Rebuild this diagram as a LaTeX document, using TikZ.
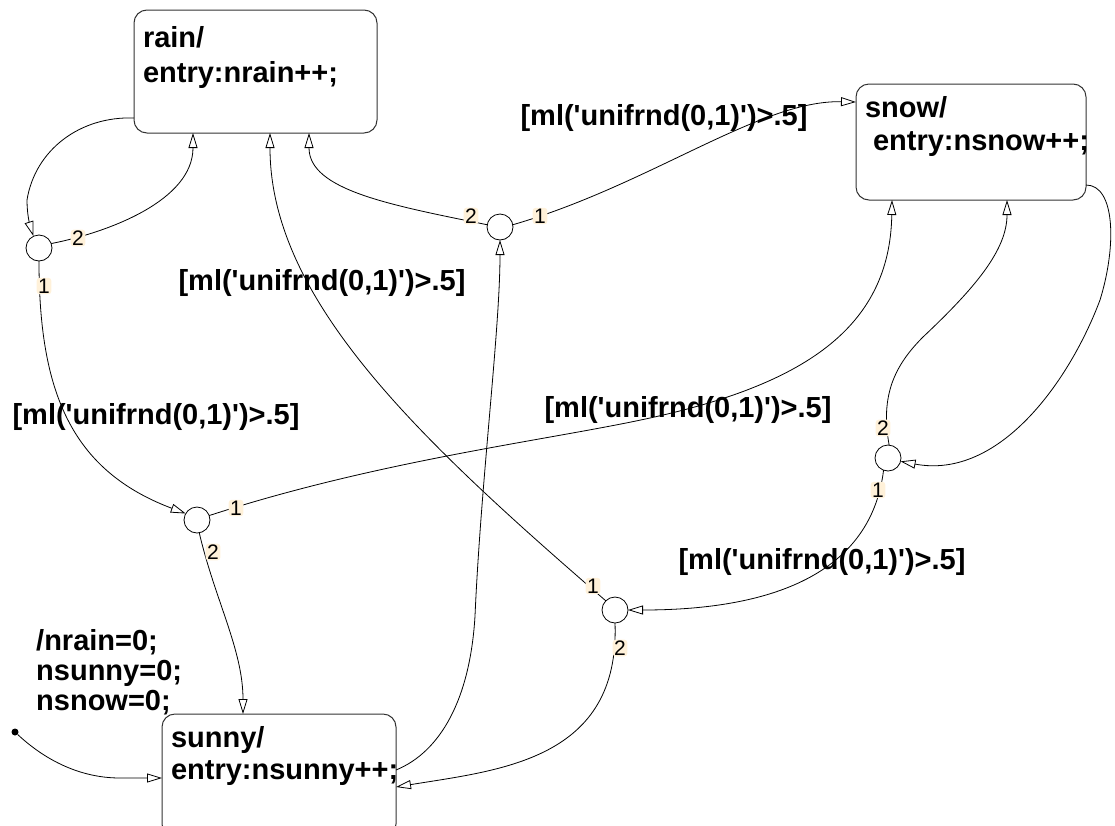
\documentclass[tikz,border=0pt]{standalone}
\usepackage{fontspec}
\setmainfont{Liberation Sans}
\usetikzlibrary{arrows.meta}
\definecolor{portbg}{RGB}{255,241,217}
\definecolor{boxline}{RGB}{50,50,50}
\newcommand{\sqt}{\textquotesingle}
\begin{document}
\begin{tikzpicture}[x=1pt,y=-1pt,
  statebox/.style={draw=boxline, line width=1pt, rounded corners=13pt, anchor=north west,
     inner xsep=9pt, inner ysep=0pt, outer sep=0pt, align=left},
  junction/.style={circle, draw=black, fill=white, line width=0.8pt, minimum size=26pt,
     inner sep=0pt, outer sep=0pt},
  port/.style={fill=portbg, rounded corners=3pt, inner xsep=1.5pt, inner ysep=1pt,
     font=\fontsize{21}{21}\selectfont},
  guard/.style={font=\fontsize{29}{34}\selectfont\bfseries, inner sep=0pt},
  tr/.style={draw=black, line width=0.8pt, -{Triangle[length=15pt,width=9pt,fill=white]}},
]
\useasboundingbox (0,0) rectangle (1115,825);

% states
\node[statebox, text width=225pt, text height=37pt, text depth=86pt,
      font=\fontsize{29}{35}\selectfont\bfseries] (rain) at (134,10)
      {rain/\\\mbox{entry:nrain++;}};
\node[statebox, text width=212pt, text height=33pt, text depth=83pt,
      font=\fontsize{29}{33}\selectfont\bfseries] (snow) at (856,84)
      {snow/\\\mbox{\hspace*{8pt}entry:nsnow++;}};
\node[statebox, text width=216pt, text height=33pt, text depth=90pt,
      font=\fontsize{29}{32}\selectfont\bfseries] (sunny) at (162,714)
      {sunny/\\\mbox{entry:nsunny++;}};

% junctions
\node[junction] (j1) at (39,248) {};
\node[junction] (j2) at (500,227) {};
\node[junction] (j3) at (197,520) {};
\node[junction] (j4) at (615,610) {};
\node[junction] (j5) at (888,458) {};

% default transition with its action
\node[circle, fill=black, inner sep=0pt, minimum size=7pt] (init) at (15,732) {};
\node[anchor=base west, align=left, text width=200pt, inner sep=0pt,
      font=\fontsize{29}{30}\selectfont\bfseries] (initact) at (36,650)
      {/nrain=0;\\nsunny=0;\\nsnow=0;};

% guards
\node[guard] (g1) at (664,118) {[ml(\sqt unifrnd(0,1)\sqt)>.5]};
\node[guard] (g2) at (322,283) {[ml(\sqt unifrnd(0,1)\sqt)>.5]};
\node[guard] (g3) at (156,417) {[ml(\sqt unifrnd(0,1)\sqt)>.5]};
\node[guard] (g4) at (688,410) {[ml(\sqt unifrnd(0,1)\sqt)>.5]};
\node[guard] (g5) at (822,562) {[ml(\sqt unifrnd(0,1)\sqt)>.5]};

% transitions
\draw[tr] ([yshift=15pt]rain.south west) .. controls (80,116) and (35,150) .. (27,200)
          .. controls (27,215) and (30,225) .. (j1.115);
\draw[tr] (j1.20) .. controls (110,232) and (193,200) .. ([xshift=59pt]rain.south west);
\draw[tr] (j1.270) .. controls (39,390) and (70,470) .. (j3.150);
\draw[tr] (j3.20) .. controls (380,460) and (550,440) .. (650,418)
          .. controls (800,385) and (890,330) .. ([xshift=36pt]snow.south west);
\draw[tr] (j3.280) .. controls (215,600) and (243,650) .. ([xshift=81pt]sunny.north west);
\draw[tr] (j2.170) .. controls (390,205) and (309,190) .. ([xshift=175pt]rain.south west);
\draw[tr] (j2.10) .. controls (650,185) and (760,100) .. ([yshift=-18pt]snow.north west);
\draw[tr] ([yshift=-56pt]sunny.north east) .. controls (440,752) and (470,700) .. (475,616)
          .. controls (481,480) and (500,330) .. (j2.270);
\draw[tr] (j4.135) .. controls (420,440) and (270,300) .. ([xshift=136pt]rain.south west);
\draw[tr] (j4.270) .. controls (620,760) and (500,770) .. ([yshift=-73pt]sunny.north east);
\draw[tr] ([yshift=15pt]snow.south east) .. controls (1115,185) and (1117,245) .. (1100,300)
          .. controls (1070,380) and (1000,480) .. (j5.345);
\draw[tr] (j5.85) .. controls (880,395) and (895,365) .. (923,337)
          .. controls (975,288) and (1007,250) .. ([xshift=151pt]snow.south west);
\draw[tr] (j5.250) .. controls (870,580) and (760,610) .. (j4.0);
\draw[tr] (init) .. controls (45,760) and (80,778) .. (120,778) -- ([yshift=-64pt]sunny.north west);

% port numbers
\node[port] (j1b) at (78,238) {2};
\node[port] (j1a) at (44,286) {1};
\node[port] (j2b) at (471,216) {2};
\node[port] (j2a) at (540,216) {1};
\node[port] (j3a) at (236,508) {1};
\node[port] (j3b) at (213,552) {2};
\node[port] (j4a) at (593,586) {1};
\node[port] (j4b) at (620,648) {2};
\node[port] (j5b) at (883,428) {2};
\node[port] (j5a) at (878,490) {1};
\end{tikzpicture}
\end{document}
